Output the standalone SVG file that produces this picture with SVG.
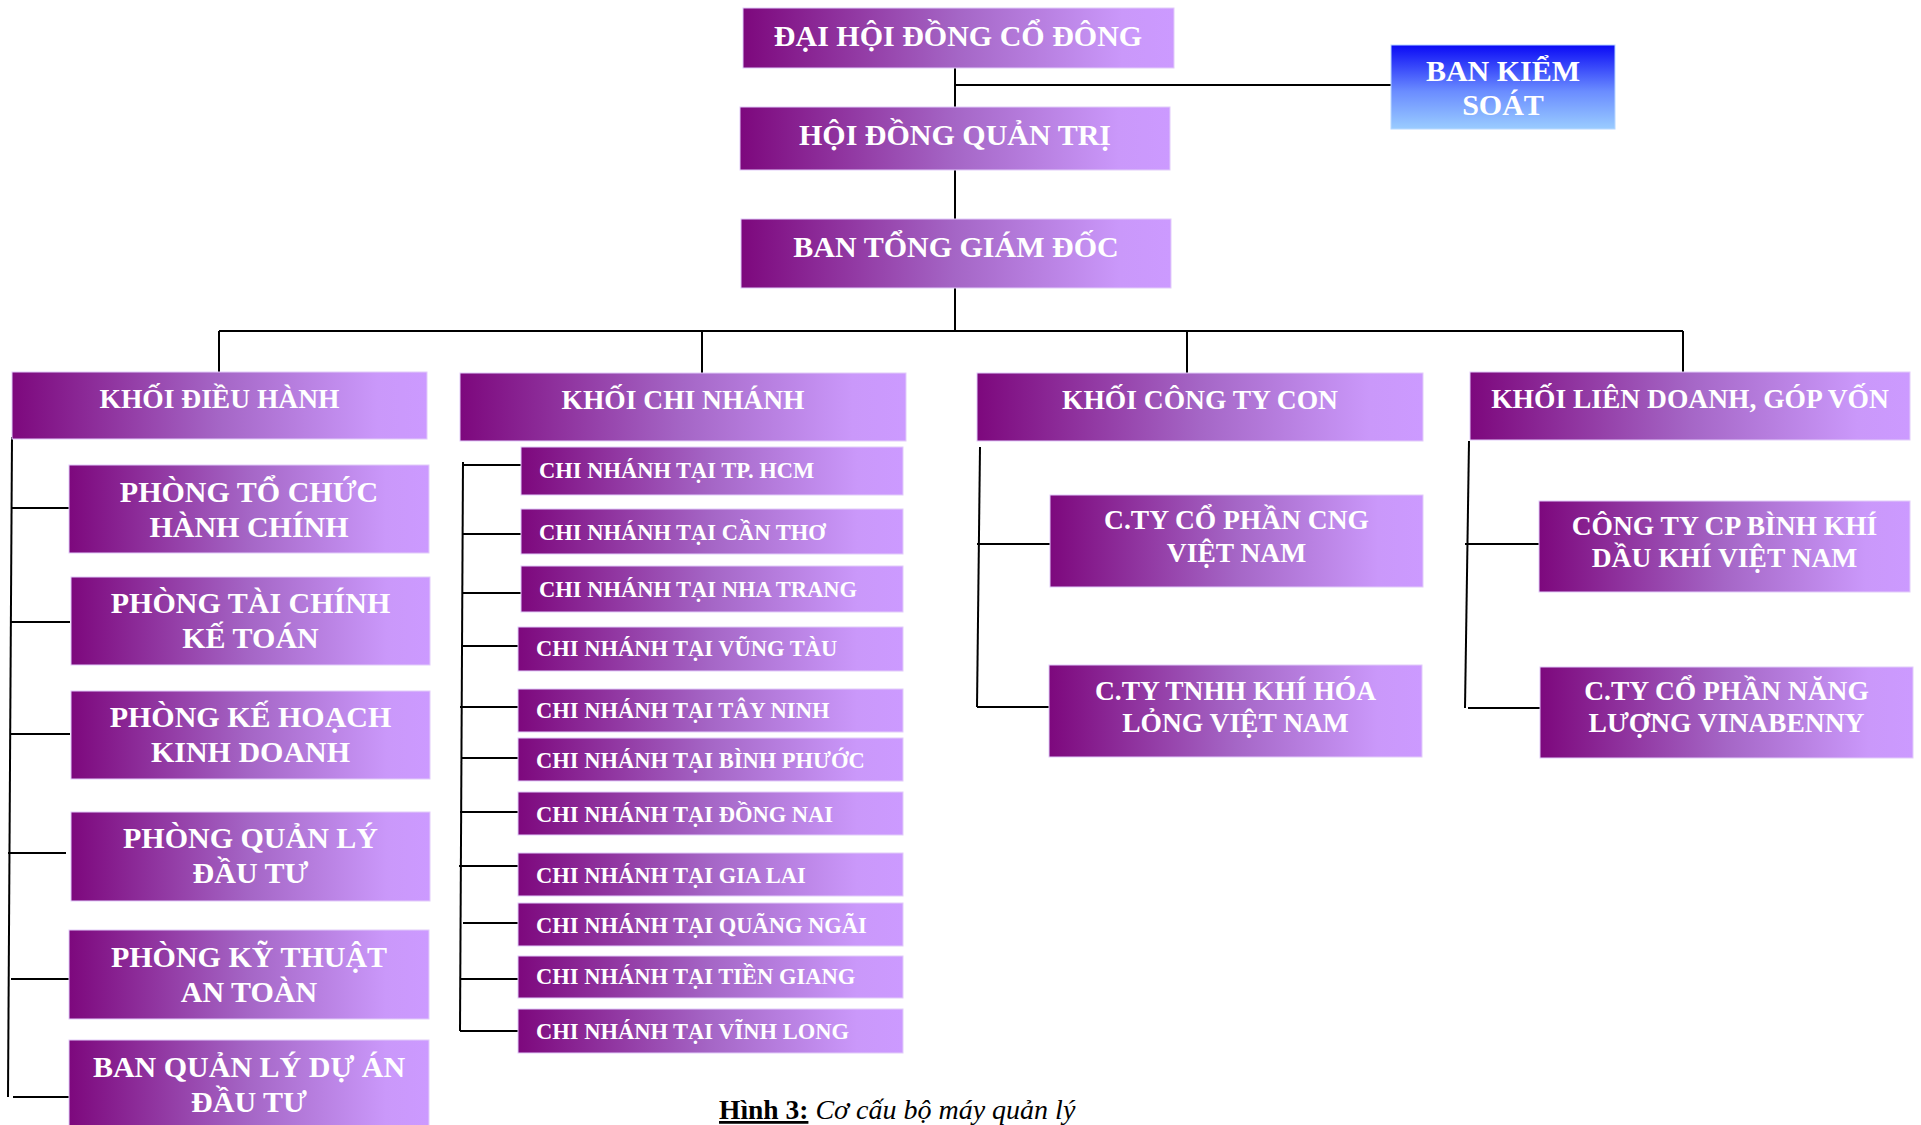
<svg xmlns="http://www.w3.org/2000/svg" width="1921" height="1125" viewBox="0 0 1921 1125">
<defs>
<linearGradient id="pg" x1="0" y1="0" x2="1" y2="0">
<stop offset="0" stop-color="#7D087D"/>
<stop offset="0.5" stop-color="#A566C6"/>
<stop offset="0.88" stop-color="#CA98FA"/>
<stop offset="1" stop-color="#CC9AFF"/>
</linearGradient>
<linearGradient id="bg" x1="0" y1="0" x2="0" y2="1">
<stop offset="0" stop-color="#0A0AF5"/>
<stop offset="0.55" stop-color="#6A8CFF"/>
<stop offset="1" stop-color="#9ACCFF"/>
</linearGradient>
</defs>
<style>
.b{fill:url(#pg);stroke:#E2CCFA;stroke-width:1}
.k{fill:url(#bg);stroke:#B8D8FF;stroke-width:1}
text{font-family:"Liberation Serif","Times New Roman",serif;font-weight:bold;fill:#fff}
.t1{font-size:30px;text-anchor:middle}
.t2{font-size:27.5px;text-anchor:middle}
.t3{font-size:30px;text-anchor:middle}
.t4{font-size:22.5px}
.t5{font-size:27.5px;text-anchor:middle}
.c{fill:none;stroke:#000;stroke-width:2}
.cap{fill:#000;font-size:27.5px}
</style>
<rect width="1921" height="1125" fill="#fff"/>
<g id="connectors" class="c">
<path d="M955 68V331"/>
<path d="M955 85H1391"/>
<path d="M219 331H1683"/>
<path d="M219 331V372M702 331V373M1187 331V373M1683 331V372"/>
<path d="M12 437L8 1097"/>
<path d="M12 508H69M11 622H70M11 734H70M8 853H66M11 979H69M13 1097H71"/>
<path d="M463 462L460 1031"/>
<path d="M463 465H521M463 534H521M463 593H521M463 646H518M460 707H518M461 758H518M460 812H518M459 866H518M463 923H518M460 979H518M460 1031H518"/>
<path d="M980 447L977 707"/>
<path d="M977 544H1050M977 707H1049"/>
<path d="M1469 441L1465 708"/>
<path d="M1465 544H1539M1468 708H1540"/>
</g>
<g id="dai-hoi-dong-co-dong"><rect class="b" x="743" y="8" width="431" height="60"/><text class="t1" x="958" y="46">ĐẠI HỘI ĐỒNG CỔ ĐÔNG</text></g>
<g id="hoi-dong-quan-tri"><rect class="b" x="740" y="107" width="430" height="63"/><text class="t1" x="955" y="145">HỘI ĐỒNG QUẢN TRỊ</text></g>
<g id="ban-tong-giam-doc"><rect class="b" x="741" y="219" width="430" height="69"/><text class="t1" x="956" y="257">BAN TỔNG GIÁM ĐỐC</text></g>
<g id="ban-kiem-soat"><rect class="k" x="1391" y="45" width="224" height="84"/><text class="t1" x="1503" y="81">BAN KIỂM</text><text class="t1" x="1503" y="115">SOÁT</text></g>

<g id="khoi-dieu-hanh"><rect class="b" x="12" y="372" width="415" height="67"/><text class="t2" x="219.5" y="408">KHỐI ĐIỀU HÀNH</text></g>
<g id="khoi-chi-nhanh"><rect class="b" x="460" y="373" width="446" height="68"/><text class="t2" x="683" y="409">KHỐI CHI NHÁNH</text></g>
<g id="khoi-cong-ty-con"><rect class="b" x="977" y="373" width="446" height="68"/><text class="t2" x="1200" y="409">KHỐI CÔNG TY CON</text></g>
<g id="khoi-lien-doanh"><rect class="b" x="1470" y="372" width="440" height="68"/><text class="t2" x="1690" y="408">KHỐI LIÊN DOANH, GÓP VỐN</text></g>

<g id="phong-to-chuc"><rect class="b" x="69" y="465" width="360" height="88"/><text class="t3" x="249" y="502">PHÒNG TỔ CHỨC</text><text class="t3" x="249" y="537">HÀNH CHÍNH</text></g>
<g id="phong-tai-chinh"><rect class="b" x="71" y="577" width="359" height="88"/><text class="t3" x="250.5" y="613">PHÒNG TÀI CHÍNH</text><text class="t3" x="250.5" y="648">KẾ TOÁN</text></g>
<g id="phong-ke-hoach"><rect class="b" x="71" y="691" width="359" height="88"/><text class="t3" x="250.5" y="727">PHÒNG KẾ HOẠCH</text><text class="t3" x="250.5" y="762">KINH DOANH</text></g>
<g id="phong-quan-ly"><rect class="b" x="71" y="812" width="359" height="89"/><text class="t3" x="250.5" y="848">PHÒNG QUẢN LÝ</text><text class="t3" x="250.5" y="883">ĐẦU TƯ</text></g>
<g id="phong-ky-thuat"><rect class="b" x="69" y="930" width="360" height="89"/><text class="t3" x="249" y="967">PHÒNG KỸ THUẬT</text><text class="t3" x="249" y="1002">AN TOÀN</text></g>
<g id="ban-quan-ly-du-an"><rect class="b" x="69" y="1040" width="360" height="90"/><text class="t3" x="249" y="1077">BAN QUẢN LÝ DỰ ÁN</text><text class="t3" x="249" y="1112">ĐẦU TƯ</text></g>

<g id="cn-hcm"><rect class="b" x="521" y="447" width="382" height="48"/><text class="t4" x="539" y="478">CHI NHÁNH TẠI TP. HCM</text></g>
<g id="cn-can-tho"><rect class="b" x="521" y="509" width="382" height="45"/><text class="t4" x="539" y="540">CHI NHÁNH TẠI CẦN THƠ</text></g>
<g id="cn-nha-trang"><rect class="b" x="521" y="566" width="382" height="46"/><text class="t4" x="539" y="597">CHI NHÁNH TẠI NHA TRANG</text></g>
<g id="cn-vung-tau"><rect class="b" x="518" y="627" width="385" height="44"/><text class="t4" x="536" y="656">CHI NHÁNH TẠI VŨNG TÀU</text></g>
<g id="cn-tay-ninh"><rect class="b" x="518" y="689" width="385" height="43"/><text class="t4" x="536" y="718">CHI NHÁNH TẠI TÂY NINH</text></g>
<g id="cn-binh-phuoc"><rect class="b" x="518" y="738" width="385" height="43"/><text class="t4" x="536" y="768">CHI NHÁNH TẠI BÌNH PHƯỚC</text></g>
<g id="cn-dong-nai"><rect class="b" x="518" y="792" width="385" height="43"/><text class="t4" x="536" y="822">CHI NHÁNH TẠI ĐỒNG NAI</text></g>
<g id="cn-gia-lai"><rect class="b" x="518" y="853" width="385" height="43"/><text class="t4" x="536" y="883">CHI NHÁNH TẠI GIA LAI</text></g>
<g id="cn-quang-ngai"><rect class="b" x="518" y="903" width="385" height="43"/><text class="t4" x="536" y="933">CHI NHÁNH TẠI QUÃNG NGÃI</text></g>
<g id="cn-tien-giang"><rect class="b" x="518" y="956" width="385" height="42"/><text class="t4" x="536" y="984">CHI NHÁNH TẠI TIỀN GIANG</text></g>
<g id="cn-vinh-long"><rect class="b" x="518" y="1009" width="385" height="44"/><text class="t4" x="536" y="1039">CHI NHÁNH TẠI VĨNH LONG</text></g>

<g id="cty-cng"><rect class="b" x="1050" y="495" width="373" height="92"/><text class="t5" x="1236.5" y="529">C.TY CỔ PHẦN CNG</text><text class="t5" x="1236.5" y="562">VIỆT NAM</text></g>
<g id="cty-tnhh"><rect class="b" x="1049" y="665" width="373" height="92"/><text class="t5" x="1235.5" y="700">C.TY TNHH KHÍ HÓA</text><text class="t5" x="1235.5" y="732">LỎNG VIỆT NAM</text></g>
<g id="cty-binh-khi"><rect class="b" x="1539" y="501" width="371" height="91"/><text class="t5" x="1724.5" y="535">CÔNG TY CP BÌNH KHÍ</text><text class="t5" x="1724.5" y="567">DẦU KHÍ VIỆT NAM</text></g>
<g id="cty-vinabenny"><rect class="b" x="1540" y="667" width="373" height="91"/><text class="t5" x="1726.5" y="700">C.TY CỔ PHẦN NĂNG</text><text class="t5" x="1726.5" y="732">LƯỢNG VINABENNY</text></g>

<text class="cap" x="719" y="1119"><tspan text-decoration="underline">Hình 3:</tspan><tspan font-weight="normal" font-style="italic" font-size="28px"> Cơ cấu bộ máy quản lý</tspan></text>
</svg>
